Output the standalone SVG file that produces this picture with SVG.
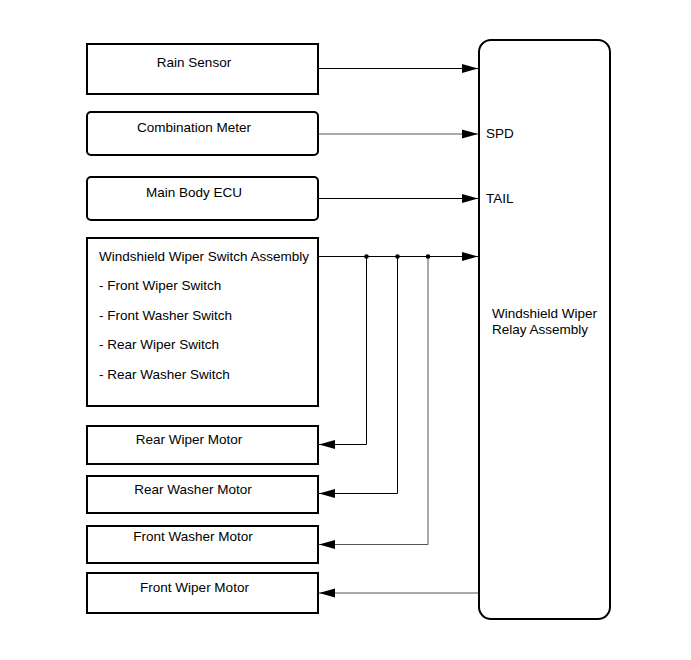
<svg xmlns="http://www.w3.org/2000/svg" width="691" height="660" viewBox="0 0 691 660">
<style>
.box{fill:#fff;stroke:#000;stroke-width:2}
.t{font-family:"Liberation Sans",Arial,sans-serif;font-size:13.5px;fill:#000}
.c{text-anchor:middle}
.w{fill:none;stroke:#000;stroke-width:1}
.g{fill:none;stroke:#555;stroke-width:1}
</style>
<defs>
<marker id="ah" markerWidth="16" markerHeight="10" refX="16" refY="5" orient="auto" markerUnits="userSpaceOnUse">
<path d="M0,0.5 L16,5 L0,9.5 Z" fill="#000"/>
</marker>
</defs>
<rect width="691" height="660" fill="#fff"/>
<g id="connectors">
<path class="w" d="M318,68.5 H478" marker-end="url(#ah)"/>
<path class="g" d="M318,134 H478" marker-end="url(#ah)"/>
<path class="w" d="M318,198.5 H478" marker-end="url(#ah)"/>
<path class="w" d="M318,256.5 H478" marker-end="url(#ah)"/>
<path class="w" d="M366.5,256.5 V444.5 H319" marker-end="url(#ah)"/>
<path class="w" d="M397.5,256.5 V493.5 H319" marker-end="url(#ah)"/>
<path class="g" d="M428,256.5 V544.5 H319" marker-end="url(#ah)"/>
<path class="g" d="M478,593 H319" marker-end="url(#ah)"/>
<circle cx="366.5" cy="256.5" r="2.3" fill="#000"/>
<circle cx="397.5" cy="256.5" r="2.3" fill="#000"/>
<circle cx="428" cy="256.5" r="2.3" fill="#000"/>
</g>
<g id="rain-sensor">
<rect class="box" x="87" y="44" width="231" height="50"/>
<text class="t c" x="194" y="67">Rain Sensor</text>
</g>
<g id="combination-meter">
<rect class="box" x="87" y="112" width="231" height="43" rx="4"/>
<text class="t c" x="194" y="132">Combination Meter</text>
</g>
<g id="main-body-ecu">
<rect class="box" x="87" y="177" width="231" height="43" rx="4"/>
<text class="t c" x="194" y="197">Main Body ECU</text>
</g>
<g id="wiper-switch">
<rect class="box" x="87" y="238" width="231" height="168"/>
<text class="t" x="99" y="261">Windshield Wiper Switch Assembly</text>
<text class="t" x="99" y="290">- Front Wiper Switch</text>
<text class="t" x="99" y="320">- Front Washer Switch</text>
<text class="t" x="99" y="349">- Rear Wiper Switch</text>
<text class="t" x="99" y="379">- Rear Washer Switch</text>
</g>
<g id="rear-wiper-motor">
<rect class="box" x="87" y="426" width="231" height="38"/>
<text class="t c" x="189" y="444">Rear Wiper Motor</text>
</g>
<g id="rear-washer-motor">
<rect class="box" x="87" y="476" width="231" height="37"/>
<text class="t c" x="193" y="494">Rear Washer Motor</text>
</g>
<g id="front-washer-motor">
<rect class="box" x="87" y="526" width="231" height="37"/>
<text class="t c" x="193" y="541">Front Washer Motor</text>
</g>
<g id="front-wiper-motor">
<rect class="box" x="87" y="573" width="231" height="40"/>
<text class="t c" x="194.5" y="592">Front Wiper Motor</text>
</g>
<g id="relay-assembly">
<rect class="box" x="479" y="40" width="131" height="579" rx="12"/>
<text class="t" x="486" y="138">SPD</text>
<text class="t" x="486" y="203">TAIL</text>
<text class="t" x="492" y="318">Windshield Wiper</text>
<text class="t" x="492" y="334">Relay Assembly</text>
</g>
</svg>
